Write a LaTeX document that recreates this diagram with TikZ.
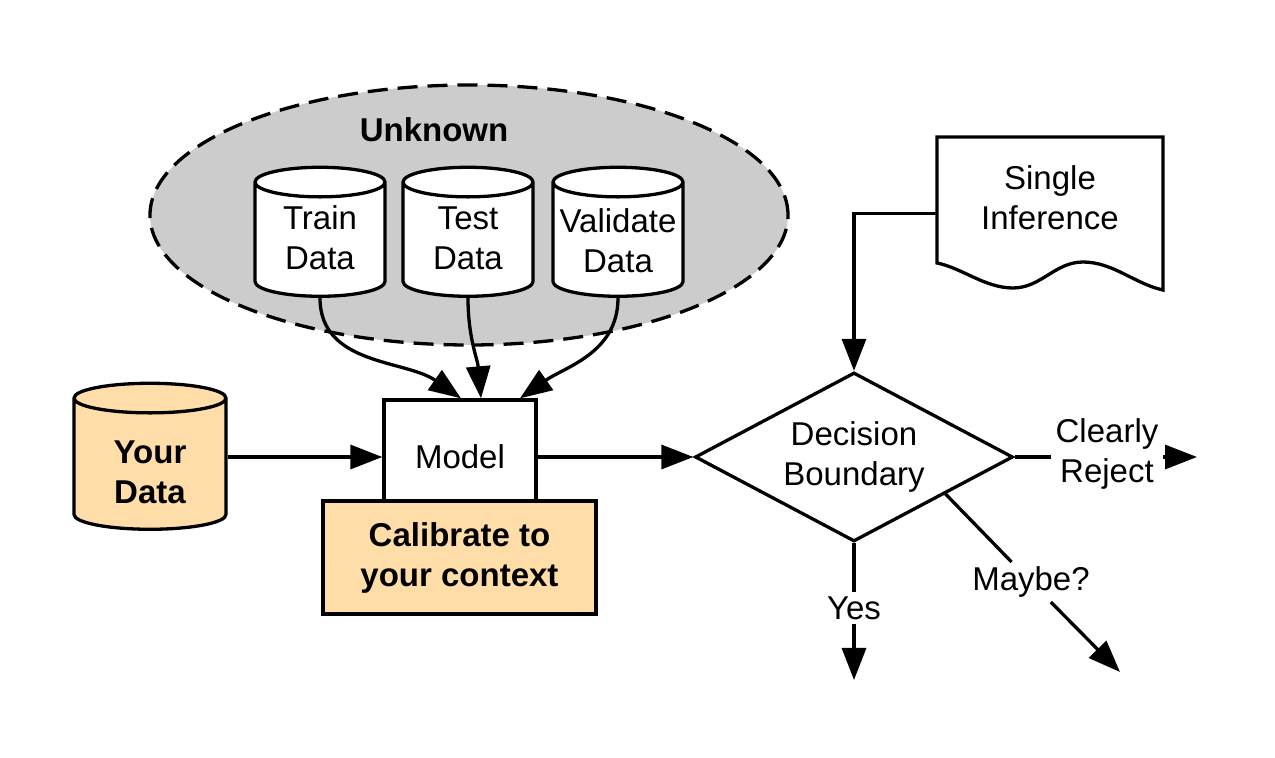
\documentclass[tikz,border=0pt]{standalone}
\usepackage{fontspec}
\setmainfont{Liberation Sans}
\usetikzlibrary{shapes,arrows.meta,calc}
\definecolor{unkgray}{RGB}{204,204,204}
\definecolor{calib}{RGB}{255,221,168}

\begin{document}
\begin{tikzpicture}
[x=1pt,y=1pt,line width=3.3pt,
 font=\fontsize{33}{40}\selectfont,
 >={Triangle[length=32pt,width=24pt]},
 db/.style={cylinder,shape border rotate=90,draw,aspect=0.4,inner sep=0pt},
 box/.style={rectangle,draw,align=center},
 bold/.style={font=\fontsize{33}{40}\selectfont\bfseries},
 lbl/.style={inner sep=3pt,align=center}]
\useasboundingbox (0,0) rectangle (1275,758);
\node (unk) at (469,543) [ellipse,draw,fill=unkgray,dash pattern=on 20pt off 10pt,minimum width=638pt,minimum height=260pt,inner sep=0pt] {};
\node (unktxt) at (434,628) [bold] {Unknown};
\node (train) at (320,518) [db,fill=white,minimum width=130pt,minimum height=129pt] {\phantom{Train}};
\node (test) at (468,518) [db,fill=white,minimum width=130pt,minimum height=129pt] {\phantom{Train}};
\node (valid) at (618,518) [db,fill=white,minimum width=130pt,minimum height=129pt] {\phantom{Train}};
\node (traintxt) at (320,520) [align=center] {Train\\Data};
\node (testtxt) at (468,520) [align=center] {Test\\Data};
\node (validtxt) at (618,517.5) [align=center,inner sep=0pt] {Validate\\Data};
\node (yours) at (150,293.5) [db,fill=calib,minimum width=152pt,minimum height=146pt] {\phantom{Train}};
\node (yourstxt) at (150,286) [align=center,bold] {Your\\Data};
\node (model) at (460,301) [box,fill=white,minimum width=152pt,minimum height=114pt] {Model};
\node (calibbox) at (459.5,200.5) [box,fill=calib,minimum width=273pt,minimum height=113pt,bold] {Calibrate to\\your context};
\node (dec) at (854,301) [diamond,draw,aspect=1.88,minimum width=318pt,minimum height=169pt,inner sep=0pt,align=center] {Decision\\Boundary};
\node (doc) at (1050,544.5) [minimum width=226pt,minimum height=153pt,inner sep=0pt,outer sep=0pt] {};
\node (doctxt) at (1050,560.5) [align=center] {Single\\Inference};
\node (rej) at (1107,304) [lbl] {Clearly\\Reject};
\node (yes) at (854,150) [lbl] {Yes};
\node (maybe) at (1031,176) [lbl] {Maybe?};
\coordinate (rejend) at (1197,301);
\coordinate (yesend) at (854,78);
\coordinate (mbend) at (1120,86);
\coordinate (mbstart) at ($(dec.east)!0.43!(dec.south)$);
\draw ($(doc.south west)+(0,27)$) -- (doc.north west) -- (doc.north east) -- (doc.south east)
  .. controls +(-28,6) and +(30,0) .. ($(doc.south west)+(146,28)$)
  .. controls +(-28,0) and +(28,0) .. ($(doc.south west)+(76,2)$)
  .. controls +(-28,0) and +(25,-5) .. ($(doc.south west)+(0,27)$) -- cycle;
\draw [->] (train.south) to [out=-90,in=145] ([xshift=1pt]model.north);
\draw [->] (test.south) to [out=-90,in=95] ([xshift=21pt]model.north);
\draw [->] (valid.south) to [out=-90,in=35] ([xshift=60pt]model.north);
\draw [->] (yours.east |- model) -- (model);
\draw [->] (model) -- (dec);
\draw [->] (doc.west) -| (dec.north);
\draw (dec.east) -- (dec.east -| rej.west);
\draw [->] (rej.east |- dec.east) -- (rejend);
\draw (dec.south) -- (yes);
\draw [->] (yes) -- (yesend);
\draw (mbstart) -- (maybe);
\draw [->] (maybe) -- (mbend);
\end{tikzpicture}
\end{document}
